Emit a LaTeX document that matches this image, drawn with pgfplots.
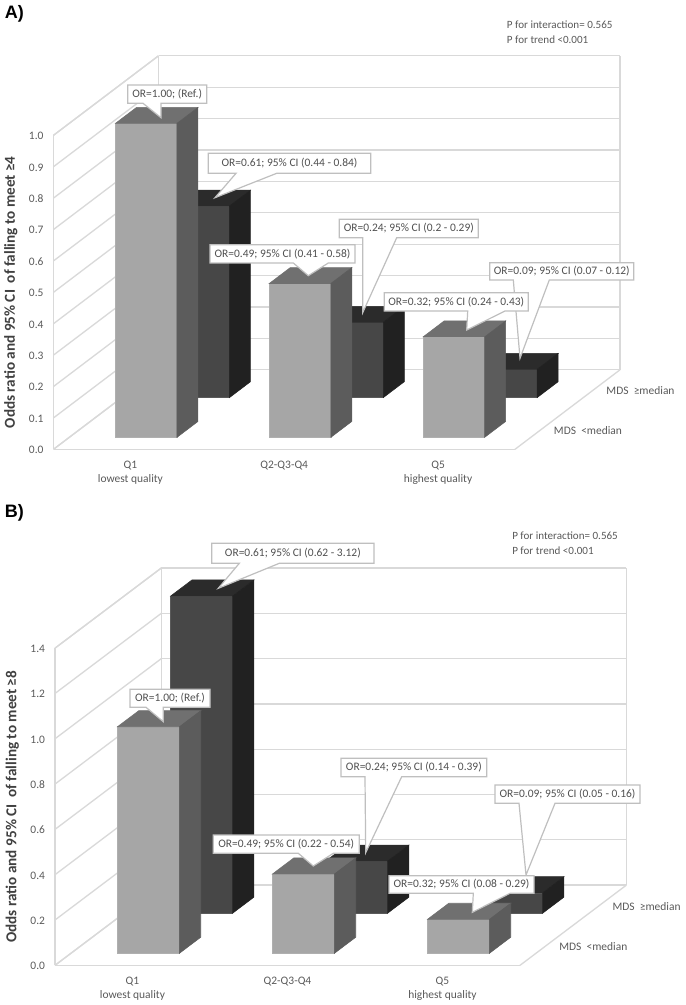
\documentclass[border=0pt]{standalone}
\usepackage{fontspec}
\setmainfont{Carlito}
\newfontfamily\panelfont{Liberation Sans}
\usepackage{pgfplots}
\pgfplotsset{compat=1.18}

\definecolor{gridc}{HTML}{D9D9D9}
\definecolor{txt}{HTML}{595959}
\definecolor{ctxt}{HTML}{505050}
\definecolor{lblc}{HTML}{404040}
\definecolor{boxc}{HTML}{BFBFBF}

% one bar: x from, x to, depth from, depth to, value, front, top, side colours
\newcommand{\cuboid}[8]{%
  \addplot3[fill=#6,draw=#6!90!white,line width=.4pt] coordinates {(#1,#3,0)(#2,#3,0)(#2,#3,#5)(#1,#3,#5)} -- cycle;
  \addplot3[fill=#7,draw=#7,line width=.4pt] coordinates {(#1,#3,#5)(#2,#3,#5)(#2,#4,#5)(#1,#4,#5)} -- cycle;
  \addplot3[fill=#8,draw=#8,line width=.4pt] coordinates {(#2,#3,0)(#2,#4,0)(#2,#4,#5)(#2,#3,#5)} -- cycle;
}
\newcommand{\lowrow}[3]{\cuboid{#1}{#2}{0.3}{0.7}{#3}{lowf}{lowt}{lows}}
\newcommand{\highrow}[3]{\cuboid{#1}{#2}{1.3}{1.7}{#3}{highf}{hight}{highs}}
\colorlet{lowf}{black!35}
\colorlet{lowt}{black!56}
\colorlet{lows}{black!64}
\colorlet{highf}{black!72}
\colorlet{hight}{black!83}
\colorlet{highs}{black!87}

\pgfplotsset{
  bars3d/.style={
    xmin=0,xmax=3,ymin=0,ymax=2,zmin=0,
    anchor=origin,clip=false,
    xtick={0.5,1.5,2.5},
    xticklabels={{Q1\\lowest quality},{Q2-Q3-Q4},{Q5\\highest quality}},
    ytick={0.5,1.5},
    yticklabels={{MDS\ \ <median},{MDS\ \ ≥median}},
    xmajorgrids=false,ymajorgrids=false,zmajorgrids=true,
    major grid style={gridc,line width=1pt},
    axis line style={gridc,line width=1pt},
    major tick length=0pt,
    tick label style={font=\fontsize{8.6}{10.6}\selectfont,text=txt},
    xticklabel style={align=center,anchor=north,yshift=-5pt},
    yticklabel style={anchor=west,xshift=6pt,yshift=-1pt},
    /pgf/number format/assume math mode=true,
    zticklabel style={/pgf/number format/fixed,/pgf/number format/fixed zerofill,/pgf/number format/precision=1,xshift=-4pt,yshift=2.5pt},
    every axis z label/.style={at={([xshift=-23.5pt]rel axis cs:0,0,0.5)},rotate=90,anchor=south,
      font=\fontsize{11.4}{13}\selectfont\bfseries,text=lblc},
  },
}

% callout in image pixels: box x0,y0,x1,y1, wedge base xa,xb, tip tx,ty, text
\newcommand{\callout}[9]{%
  \draw[boxc,line width=.9pt,fill=white,line join=miter]
    (#1*.75pt,-#2*.75pt) -- (#3*.75pt,-#2*.75pt) -- (#3*.75pt,-#4*.75pt)
    -- (#6*.75pt,-#4*.75pt) -- (#7*.75pt,-#8*.75pt) -- (#5*.75pt,-#4*.75pt)
    -- (#1*.75pt,-#4*.75pt) -- cycle;
  \node[font=\fontsize{8.6}{10}\selectfont,text=ctxt,inner sep=0pt,anchor=center]
    at ({(#1+#3)/2*.75pt},{-(#2+#4)/2*.75pt}) {#9};
}

\begin{document}
\begin{tikzpicture}
\path[use as bounding box] (0,0) rectangle (513.75pt,-753.75pt);

\node[font=\panelfont\bfseries\fontsize{13.5}{14}\selectfont,text=black,anchor=west,inner sep=0pt] at (3.5pt,-10.5pt) {A)};
\node[font=\panelfont\bfseries\fontsize{13.5}{14}\selectfont,text=black,anchor=west,inner sep=0pt] at (3.5pt,-385pt) {B)};

\begin{axis}[bars3d,at={(40.125pt,-336.975pt)},
  x={(115.375pt,0pt)},y={(39.375pt,29.81pt)},z={(0pt,235.5pt)},
  zmax=1,ztick={0,0.1,0.2,0.3,0.4,0.5,0.6,0.7,0.8,0.9,1.0},
  zlabel={Odds ratio and 95\% CI\ \ of falling to meet ≥4}]
\highrow{0.3}{0.7}{0.61}
\highrow{1.3}{1.7}{0.24}
\highrow{2.3}{2.7}{0.09}
\lowrow{0.3}{0.7}{1.00}
\lowrow{1.3}{1.7}{0.49}
\lowrow{2.3}{2.7}{0.32}
\end{axis}

\begin{axis}[bars3d,at={(41.25pt,-723.98pt)},
  x={(116.25pt,0pt)},y={(39.9pt,30.08pt)},z={(0pt,169.9pt)},
  zmax=1.4,ztick={0,0.2,0.4,0.6,0.8,1.0,1.2,1.4},
  zlabel={Odds ratio and 95\% CI\ \ of falling to meet ≥8}]
\highrow{0.3}{0.7}{1.40}
\highrow{1.3}{1.7}{0.23}
\highrow{2.3}{2.7}{0.09}
\lowrow{0.3}{0.7}{1.00}
\lowrow{1.3}{1.7}{0.35}
\lowrow{2.3}{2.7}{0.15}
\end{axis}

% panel A callouts
\callout{127.7}{85}{206.7}{103.3}{143}{161}{161}{117.7}{OR=1.00; (Ref.)}
\callout{208.3}{153.3}{370.7}{173.3}{236}{276.7}{215}{197.7}{OR=0.61; 95\% CI (0.44 - 0.84)}
\callout{339.3}{219.3}{478.3}{237.7}{362.7}{396.7}{362.7}{312.7}{OR=0.24; 95\% CI (0.2 - 0.29)}
\callout{210}{244.7}{355}{263}{293.3}{328.3}{308.3}{275.7}{OR=0.49; 95\% CI (0.41 - 0.58)}
\callout{489.7}{262.7}{633.7}{280}{513.3}{549.3}{520}{358.3}{OR=0.09; 95\% CI (0.07 - 0.12)}
\callout{384.3}{292.7}{528.3}{311}{467.7}{505}{466.7}{330}{OR=0.32; 95\% CI (0.24 - 0.43)}

% panel B callouts
\callout{130}{689.3}{210}{707.3}{146}{163.3}{163.3}{721.7}{OR=1.00; (Ref.)}
\callout{211.7}{543.3}{374}{563.3}{239.3}{279.3}{218.3}{588.3}{OR=0.61; 95\% CI (0.62 - 3.12)}
\callout{341}{758.3}{486.7}{776.7}{365}{401.7}{365.7}{852.7}{OR=0.24; 95\% CI (0.14 - 0.39)}
\callout{213.3}{835}{359.3}{853.3}{298.3}{333.3}{313.3}{866}{OR=0.49; 95\% CI (0.22 - 0.54)}
\callout{495}{785}{640}{803.3}{519}{555}{526}{875}{OR=0.09; 95\% CI (0.05 - 0.16)}
\callout{389}{875.7}{534}{893.3}{473.3}{510}{472.3}{912.3}{OR=0.32; 95\% CI (0.08 - 0.29)}

\node[font=\fontsize{8.3}{10.9}\selectfont,text=txt,align=left,anchor=north west,inner sep=0pt] at (380pt,-15.5pt) {P for interaction= 0.565\\P for trend <0.001};
\node[font=\fontsize{8.3}{10.9}\selectfont,text=txt,align=left,anchor=north west,inner sep=0pt] at (384pt,-399pt) {P for interaction= 0.565\\P for trend <0.001};
\end{tikzpicture}
\end{document}
